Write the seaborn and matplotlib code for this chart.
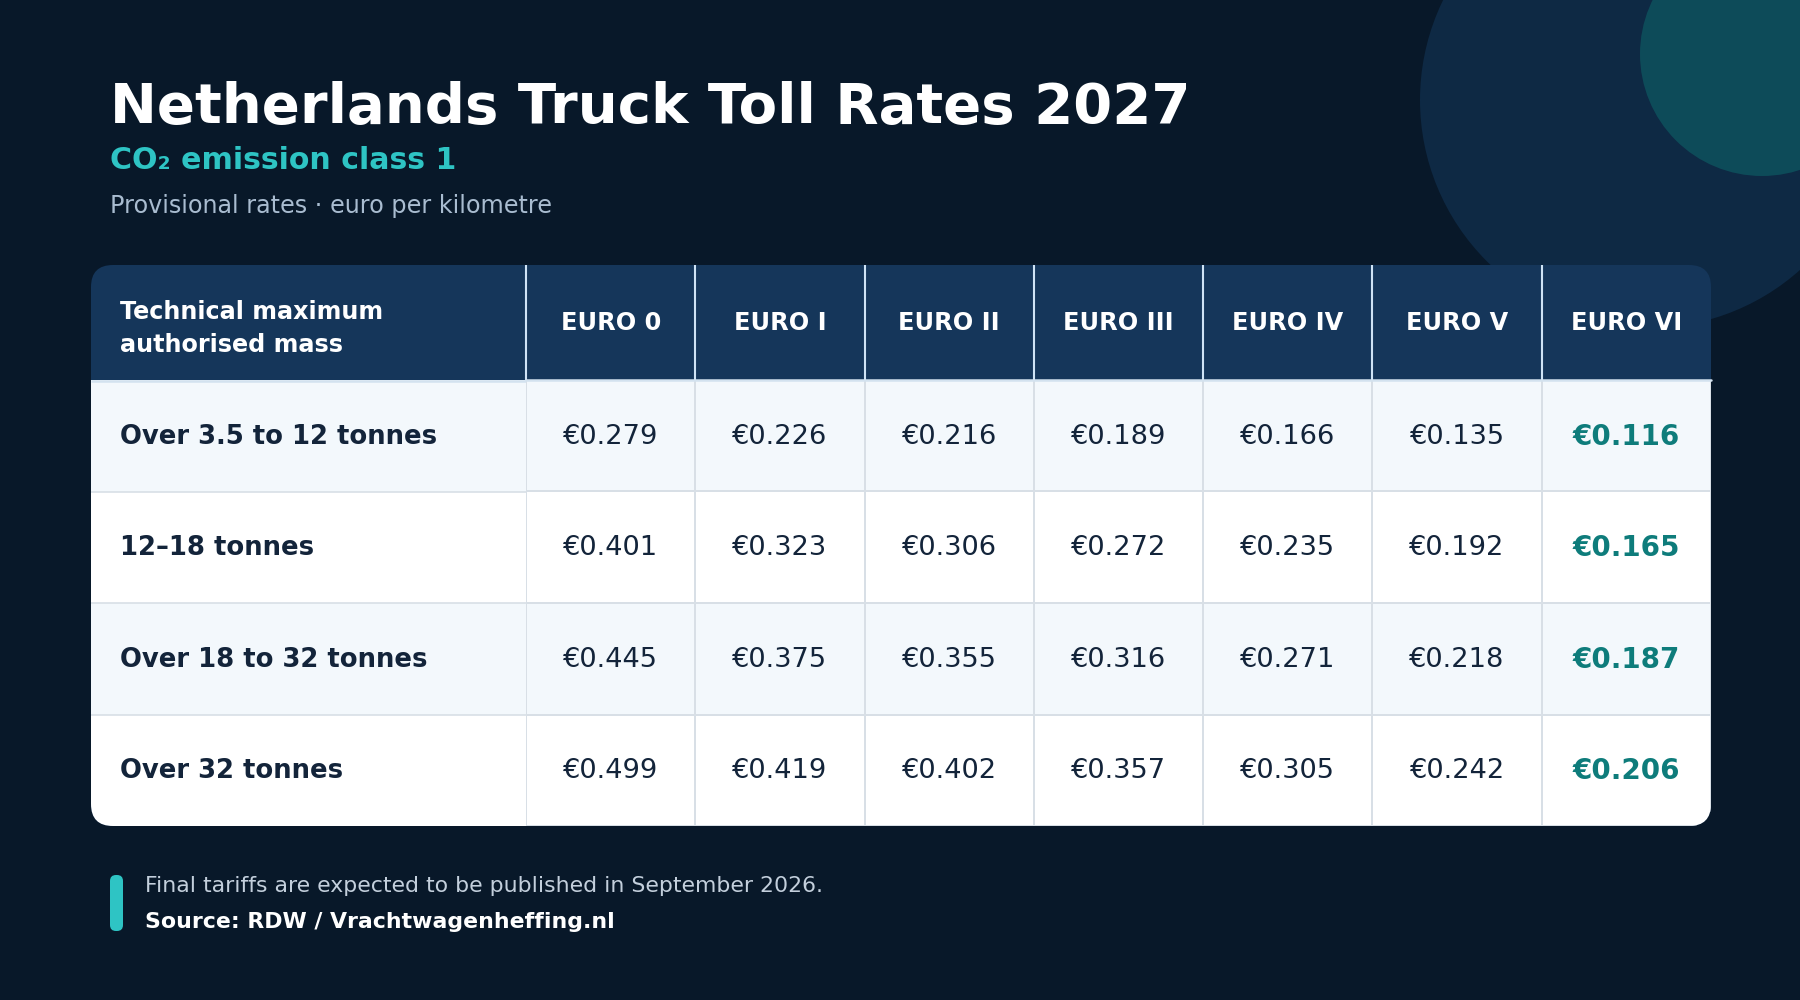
import numpy as np
import seaborn as sns
from matplotlib import pyplot as plt
from matplotlib.colors import ListedColormap
from matplotlib.patches import Circle, FancyBboxPatch, Rectangle

# data
mass_classes = ["Over 3.5 to 12 tonnes", "12\u201318 tonnes",
                "Over 18 to 32 tonnes", "Over 32 tonnes"]
euro_classes = ["EURO 0", "EURO I", "EURO II", "EURO III",
                "EURO IV", "EURO V", "EURO VI"]
rates_35_12 = [0.279, 0.226, 0.216, 0.189, 0.166, 0.135, 0.116]
rates_12_18 = [0.401, 0.323, 0.306, 0.272, 0.235, 0.192, 0.165]
rates_18_32 = [0.445, 0.375, 0.355, 0.316, 0.271, 0.218, 0.187]
rates_32 = [0.499, 0.419, 0.402, 0.357, 0.305, 0.242, 0.206]

rates = np.array([rates_35_12, rates_12_18, rates_18_32, rates_32])
labels = np.array([[f"\u20ac{v:.3f}" for v in row] for row in rates])

BG = "#081829"
HEADER = "#15365A"
TEAL = "#2EC4C4"
DARK = "#13243A"

sns.set_theme(style="white")
plt.rcParams["font.family"] = ["DejaVu Sans"]

fig = plt.figure(figsize=(18, 10), dpi=100, facecolor=BG)

# background axes in pixel units
bg = fig.add_axes([0, 0, 1, 1], zorder=0)
bg.set_xlim(0, 1800)
bg.set_ylim(1000, 0)
bg.set_axis_off()
bg.set_facecolor(BG)

bg.add_patch(Circle((1648, 100), 228, color="#0E2944", lw=0))
bg.add_patch(Circle((1762, 54), 122, color="#0D4B59", lw=0))

bg.text(110, 123, "Netherlands Truck Toll Rates 2027", color="white",
        fontsize=40.4, fontweight="bold", va="baseline")
bg.text(110, 169, "CO\u2082 emission class 1", color=TEAL,
        fontsize=21.6, fontweight="bold", va="baseline")
bg.text(110, 213, "Provisional rates \u00b7 euro per kilometre",
        color="#A9BCD0", fontsize=17.2, va="baseline")

# table frame
tx0, tx1, ty0, head_bot, ty1 = 91, 1711, 265, 380, 826
col1 = 526
row_h = (ty1 - head_bot) / len(mass_classes)
col_w = (tx1 - col1) / len(euro_classes)
stripe = ["#F3F8FC", "#FFFFFF"]

table = FancyBboxPatch((tx0, ty0), tx1 - tx0, ty1 - ty0,
                       boxstyle="round,pad=0,rounding_size=22",
                       fc=HEADER, ec="none")
bg.add_patch(table)

bg.text(120, (ty0 + head_bot) / 2 + 6, "Technical maximum\nauthorised mass",
        color="white", fontsize=17.2, fontweight="bold", va="center",
        linespacing=1.52)
for j, name in enumerate(euro_classes):
    cx = col1 + col_w * (j + 0.5)
    bg.text(cx, (ty0 + head_bot) / 2 + 1, name, color="white", fontsize=17.3,
            fontweight="bold", ha="center", va="center")
    bg.vlines(col1 + col_w * j, ty0, head_bot, color="#CFE3F5", lw=1.5)

for i, name in enumerate(mass_classes):
    y = head_bot + row_h * i
    r = Rectangle((tx0, y), col1 - tx0, row_h, fc=stripe[i % 2], ec="none")
    bg.add_patch(r)
    r.set_clip_path(table)
    if i > 0:
        bg.hlines(y, tx0, col1, color="#D8DFE6", lw=1.2)
    bg.text(120, y + row_h / 2 + 1, name, color=DARK, fontsize=18.6,
            fontweight="bold", va="center")
bg.hlines(head_bot + 1, tx0, col1, color="#D3E2EF", lw=1.8)

# value cells
ax = fig.add_axes([col1 / 1800, 1 - ty1 / 1000,
                   (tx1 - col1) / 1800, (ty1 - head_bot) / 1000], zorder=1)
parity = np.array([[i % 2] * len(euro_classes) for i in range(len(mass_classes))])
sns.heatmap(parity, ax=ax, cmap=ListedColormap(stripe), cbar=False,
            annot=labels, fmt="", linewidths=1.2, linecolor="#D8DFE6",
            xticklabels=False, yticklabels=False,
            annot_kws={"fontsize": 19.6, "color": DARK})
ax.collections[0].set_clip_path(table)
ax.set_facecolor("none")
ax.axhline(0, color="#D3E2EF", lw=1.8, clip_on=False)
for t in ax.texts:
    x, y = t.get_position()
    t.set_position((x, y + 0.01))
    if x > len(euro_classes) - 1:
        t.set_color("#0E7C7B")
        t.set_fontweight("bold")
        t.set_fontsize(20)

# footer
bg.add_patch(FancyBboxPatch((110, 875), 13, 56,
                            boxstyle="round,pad=0,rounding_size=6",
                            fc=TEAL, ec="none"))
bg.text(145, 892, "Final tariffs are expected to be published in September 2026.",
        color="#C3CFDC", fontsize=15.8, va="baseline")
bg.text(145, 928, "Source: RDW / Vrachtwagenheffing.nl", color="white",
        fontsize=15.8, fontweight="bold", va="baseline")

fig.savefig("out.png", dpi=100, facecolor=BG)
